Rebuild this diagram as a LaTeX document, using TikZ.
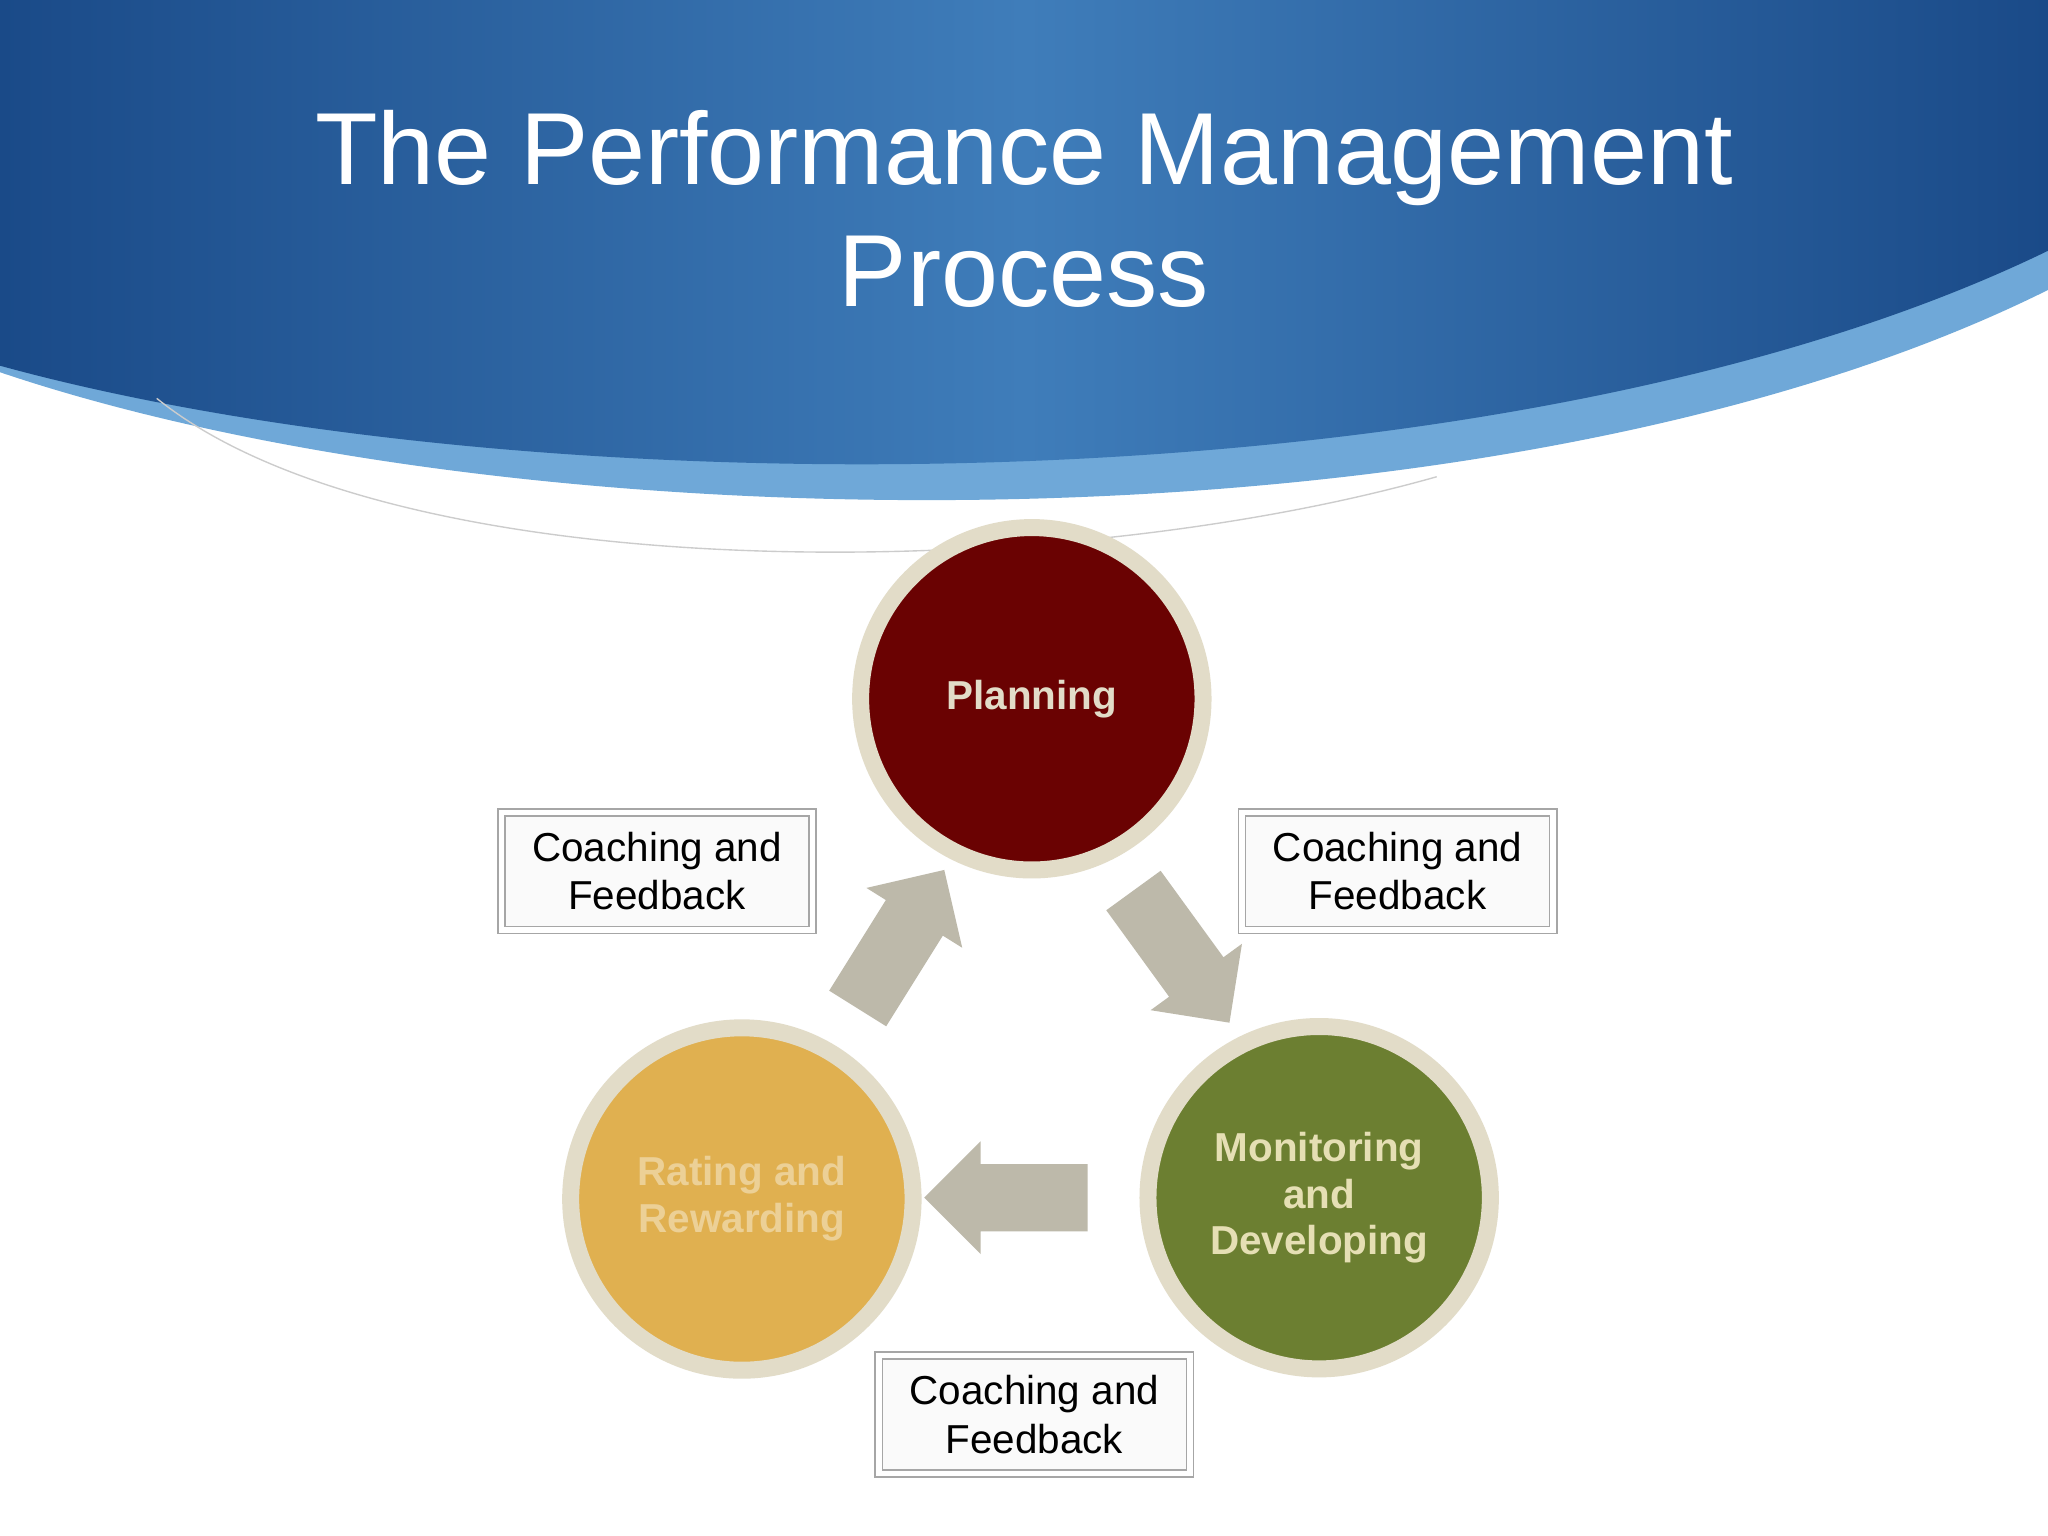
\documentclass[tikz,border=0pt]{standalone}
\usepackage{fontspec}
\setmainfont{Liberation Sans}
\usetikzlibrary{shapes.arrows}
\definecolor{dblue}{HTML}{1A4A88}
\definecolor{mblue}{HTML}{3F7DBA}
\definecolor{lblue}{HTML}{6FA8D8}
\definecolor{plan}{HTML}{6A0202}
\definecolor{moni}{HTML}{6C7F31}
\definecolor{rate}{HTML}{E0B050}
\definecolor{ring}{HTML}{E2DCC8}
\definecolor{arr}{HTML}{BDB9AA}
\tikzset{
 proc/.style={circle,minimum size=2.62cm,draw=ring,line width=1.3mm,font=\bfseries\fontsize{8.8}{10.2}\selectfont,align=center,inner sep=0},
 cbox/.style={draw=gray!70,double=white,double distance=0.4mm,fill=gray!4,minimum width=2.38cm,minimum height=0.9cm,align=center,font=\fontsize{8.8}{10.6}\selectfont},
 barrow/.style={single arrow,fill=arr,minimum height=1.25cm,minimum width=0.85cm,inner xsep=0,inner ysep=0.25cm,single arrow head extend=0.175cm,anchor=center}
}
\begin{document}
\begin{tikzpicture}[x=0.01cm,y=-0.01cm]
\useasboundingbox (0,0) rectangle (1568,1176);
\fill[white] (0,0) rectangle (1568,1176);
\fill[lblue] (0,0)--(1568,0)--(1568,222) .. controls (1150,430) and (400,420) .. (0,285)--cycle;
\shade[left color=dblue,right color=dblue,middle color=mblue] (0,0)--(1568,0)--(1568,192) .. controls (1150,395) and (400,390) .. (0,280)--cycle;
\draw[gray!40,line width=0.3pt] (120,305) .. controls (300,450) and (800,450) .. (1100,365);
\node[white,font=\fontsize{22.3}{26.5}\selectfont,align=center] (title) at (784,160) {The Performance Management\\Process};
\node[proc,fill=plan,text=ring] (p) at (790,535) {Planning};
\node[proc,fill=moni,text=ring!90!yellow] (m) at (1010,917) {Monitoring\\and\\Developing};
\node[proc,fill=rate,text=rate!60!white] (r) at (568,918) {Rating and\\Rewarding};
\node[barrow,rotate=58] (a1) at (683,730) {};
\node[barrow,rotate=-54] (a2) at (897,722) {};
\node[barrow,rotate=180] (a3) at (783,917) {};
\node[cbox] (b1) at (503,667) {Coaching and\\Feedback};
\node[cbox] (b2) at (1070,667) {Coaching and\\Feedback};
\node[cbox] (b3) at (792,1083) {Coaching and\\Feedback};
\end{tikzpicture}
\end{document}
